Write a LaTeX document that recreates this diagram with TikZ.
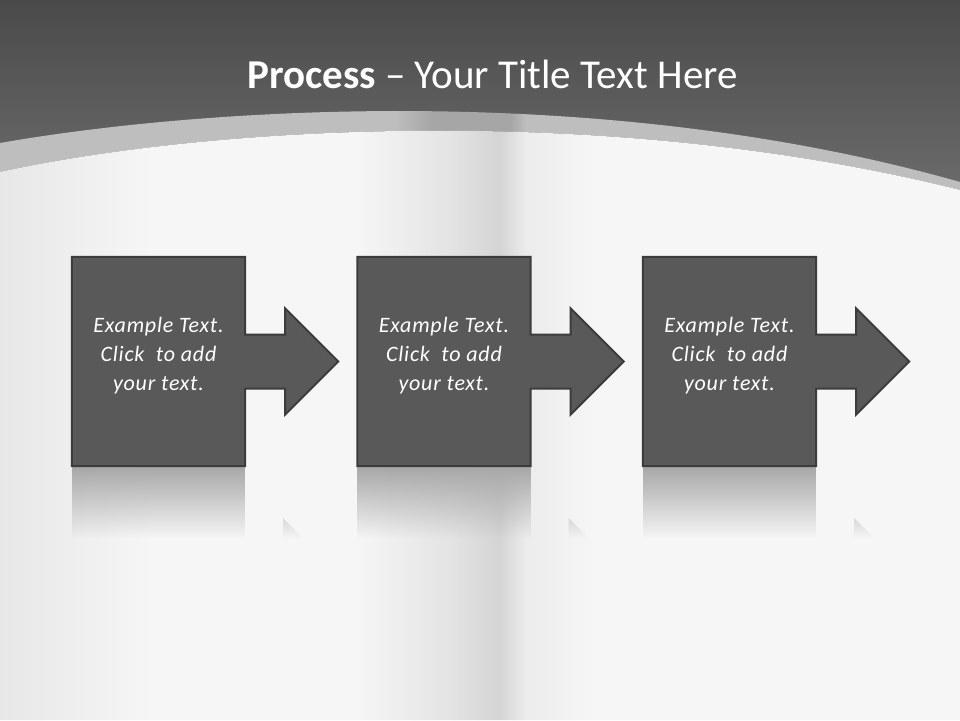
\documentclass[tikz,border=0pt]{standalone}
\usepackage{fontspec}
\setmainfont{Carlito}
\usetikzlibrary{shapes,calc,fadings}
\definecolor{boxgray}{HTML}{595959}
\definecolor{edgegray}{HTML}{3C3C3C}
\definecolor{paper}{HTML}{F6F6F6}
\definecolor{headtop}{HTML}{4A4A4A}
\definecolor{headbot}{HTML}{6C6C6C}
\definecolor{bandgray}{HTML}{BEBEBE}
\definecolor{streakgray}{HTML}{A6A6A6}
\definecolor{ribbongray}{HTML}{D4D4D4}
% horizontal shadings: x = 0..960 maps to 25bp..75bp
\pgfdeclarehorizontalshading{bandstreak}{100bp}{color(0bp)=(bandgray); color(45.5bp)=(bandgray); color(47.5bp)=(streakgray); color(51.6bp)=(streakgray); color(52.4bp)=(bandgray); color(100bp)=(bandgray)}
\pgfdeclarehorizontalshading{ribbon}{100bp}{color(0bp)=(paper!94!black); color(25bp)=(paper!94!black); color(33bp)=(paper); color(43.5bp)=(paper); color(48.5bp)=(ribbongray!55!paper); color(51bp)=(ribbongray); color(52.4bp)=(paper!96!black); color(56bp)=(paper); color(100bp)=(paper)}
\tikzstyle{block} = [rectangle, minimum width=173pt, minimum height=209pt, inner sep=0pt]
\tikzstyle{tile} = [fill=boxgray, draw=edgegray, line width=2pt, line join=miter]
\tikzstyle{caption} = [text=white, font=\itshape\fontsize{22}{29}\selectfont\addfontfeature{LetterSpace=3.5}, align=center]
\tikzstyle{mirror} = [fill=gray!68, path fading=south]

\begin{document}
\begin{tikzpicture}[x=1pt, y=-1pt, node distance=285.5pt]
        \useasboundingbox (0,0) rectangle (960,720);
        % background and header
        \shade[top color=headtop, bottom color=headbot] (0,0) rectangle (960,195);
        \shade[shading=bandstreak] (0,143) .. controls (200,108) and (600,80) .. (960,182)
            -- (960,190) .. controls (600,100) and (200,128) .. (0,172) -- cycle;
        \shade[shading=ribbon] (0,172) .. controls (200,128) and (600,100) .. (960,190)
            -- (960,720) -- (0,720) -- cycle;
        \node[text=white, font=\fontsize{41}{48}\selectfont] (title) at (492.5,74)
            {\textbf{Process} -- Your Title Text Here};
        % the three steps
        \node[block] (step1) at (158.5,361.5) {};
        \node[block, right of=step1] (step2) {};
        \node[block, right of=step2] (step3) {};
        \foreach \s in {step1,step2,step3} {
            \fill[mirror] ($(\s.south west)+(0,1)$) rectangle ($(\s.south east)+(0,72)$);
            \fill[gray!30, path fading=south] ($(\s.south east)+(38,52)$) -- ++(0,20) -- ++(20,0) -- cycle;
            \draw[tile] (\s.north west) -- (\s.north east) -- ($(\s.east)+(0,-27)$) -- ++(40,0) -- ++(0,-26)
                -- ($(\s.east)+(93,0)$) -- ($(\s.east)+(40,53)$) -- ++(0,-26) -- ($(\s.east)+(0,27)$)
                -- (\s.south east) -- (\s.south west) -- cycle;
            \node[caption] at ($(\s.center)+(0,-6)$) {Example Text.\\Click\ \ to add\\your text.};
        }
    \end{tikzpicture}
\end{document}
